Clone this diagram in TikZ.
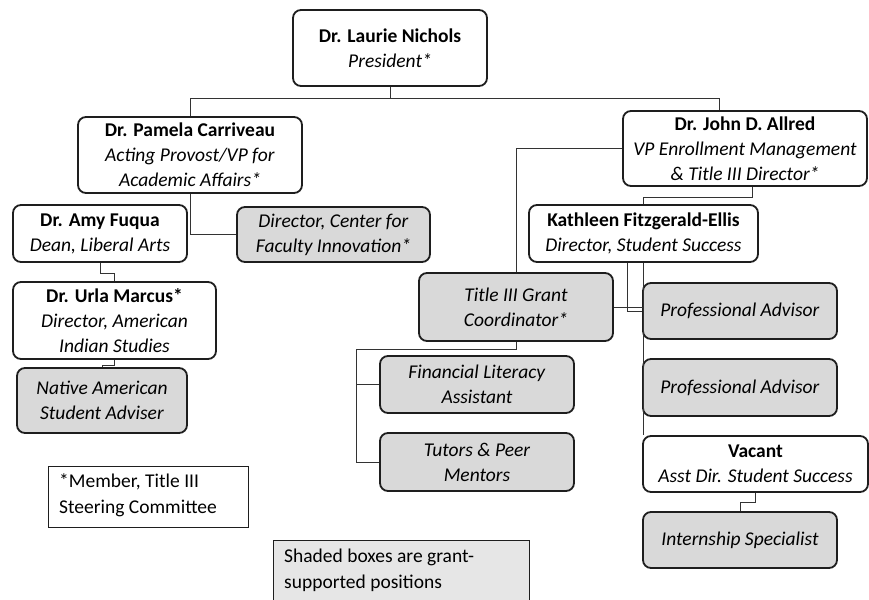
\documentclass[tikz,border=0pt]{standalone}
\usepackage{fontspec}
\setmainfont{Carlito}
\usetikzlibrary{calc}
\definecolor{boxline}{HTML}{1E1E1E}
\definecolor{shade}{HTML}{D9D9D9}
\definecolor{legshade}{HTML}{E6E6E6}
\definecolor{conn}{HTML}{333333}
\tikzset{
  orgbox/.style={draw=boxline, line width=1.8pt, rounded corners=8pt, fill=white,
    align=center, inner sep=0pt, font=\fontsize{19.5}{25}\selectfont},
  grantbox/.style={orgbox, fill=shade},
  link/.style={draw=conn, line width=0.9pt},
  legtext/.style={anchor=west, align=left, inner sep=0pt, font=\fontsize{19.5}{26}\selectfont},
}
\begin{document}
\begin{tikzpicture}[x=1pt, y=-1pt]
\useasboundingbox (0,0) rectangle (869,599);
% boxes
\node[orgbox, minimum width=194pt, minimum height=76pt] (pres) at (390,48)
  {\textbf{Dr. Laurie Nichols}\\\textit{President*}};
\node[orgbox, minimum width=224pt, minimum height=76pt] (pam) at (190,155)
  {\textbf{Dr. Pamela Carriveau}\\\textit{Acting Provost/VP for}\\\textit{Academic Affairs*}};
\node[orgbox, minimum width=174pt, minimum height=57pt] (amy) at (100,233.5)
  {\textbf{Dr. Amy Fuqua}\\\textit{Dean, Liberal Arts}};
\node[grantbox, minimum width=193pt, minimum height=55pt] (dir) at (333.5,234.5)
  {\textit{Director, Center for}\\\textit{Faculty Innovation*}};
\node[orgbox, minimum width=203pt, minimum height=77pt] (urla) at (114.5,320.5)
  {\textbf{Dr. Urla Marcus*}\\\textit{Director, American}\\\textit{Indian Studies}};
\node[grantbox, minimum width=170pt, minimum height=65pt] (native) at (102,400.5)
  {\textit{Native American}\\\textit{Student Adviser}};
\node[orgbox, minimum width=244pt, minimum height=75pt] (john) at (745,148.5)
  {\textbf{Dr. John D. Allred}\\\textit{VP Enrollment Management}\\\textit{\& Title III Director*}};
\node[orgbox, minimum width=229pt, minimum height=57pt] (kath) at (643.5,233.5)
  {\textbf{Kathleen Fitzgerald-Ellis}\\\textit{Director, Student Success}};
\node[grantbox, minimum width=194pt, minimum height=68pt] (t3) at (516,307)
  {\textit{Title III Grant}\\\textit{Coordinator*}};
\node[grantbox, minimum width=194pt, minimum height=57pt] (fin) at (477,384.5)
  {\textit{Financial Literacy}\\\textit{Assistant}};
\node[grantbox, minimum width=194pt, minimum height=58pt] (tut) at (477,462)
  {\textit{Tutors \& Peer}\\\textit{Mentors}};
\node[grantbox, minimum width=194pt, minimum height=56pt] (pa1) at (740,311)
  {\textit{Professional Advisor}};
\node[grantbox, minimum width=194pt, minimum height=57pt] (pa2) at (740,387.5)
  {\textit{Professional Advisor}};
\node[orgbox, minimum width=225pt, minimum height=56pt] (vac) at (755.5,464)
  {\textbf{Vacant}\\\textit{Asst Dir. Student Success}};
\node[grantbox, minimum width=194pt, minimum height=56pt] (intern) at (740,540)
  {\textit{Internship Specialist}};
% legends
\draw[draw=boxline, line width=0.9pt, fill=white] (48,466) rectangle (248,527);
\node[legtext] (leg1) at (59,495)
  {*Member, Title III\\Steering Committee};
\fill[legshade] (273,540) rectangle (529,600);
\draw[draw=boxline, line width=0.9pt] (273,600) -- (273,540) -- (529,540) -- (529,600);
\node[legtext] (leg2) at (284,570)
  {Shaded boxes are grant-\\supported positions};
% connectors
\coordinate (pj) at ($(pres.south)+(0,12)$);
\coordinate (jn) at ($(john.north)+(-26,0)$);
\draw[link] (pres.south) -- (pj);
\draw[link] (pj) -| (pam.north);
\draw[link] (pj) -| (jn);
\draw[link] (pam.south) |- (dir.west);
\draw[link] (amy.south) -- ++(0,11) -| (urla.north);
\draw[link] (urla.south) -- ++(0,6) -| (native.north);
\draw[link] (john.west) -| (t3.north);
\coordinate (js) at ($(john.south)+(7,0)$);
\draw[link] (js) -- ++(0,11) -| (kath.north);
\coordinate (bus) at (356,349);
\draw[link] (t3.south) |- (bus);
\draw[link] (bus) |- (tut.west);
\draw[link] (fin.west) -- (fin.west -| bus);
\coordinate (ks) at ($(kath.south)+(-16,0)$);
\draw[link] (ks) |- (pa1.west);
\draw[link] (kath.south) -- (kath.south |- vac.north);
\draw[link] (t3.east) -- (t3.east -| kath.south);
\draw[link] (vac.south) -- ++(0,10) -| (intern.north);
\end{tikzpicture}
\end{document}
